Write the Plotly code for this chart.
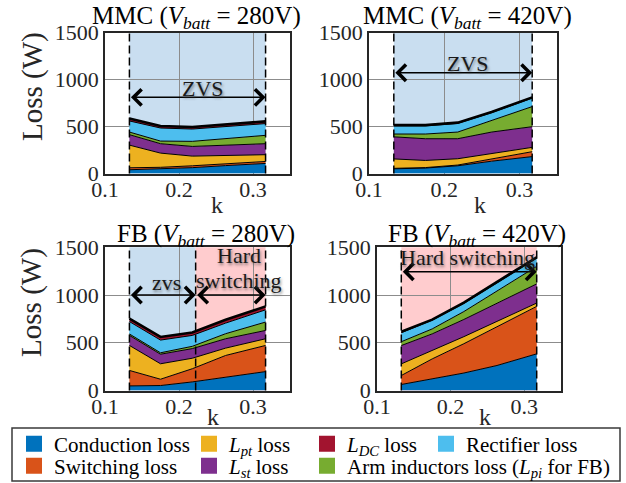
import plotly.graph_objects as go

# ---------------------------------------------------------------- data
k = [0.133, 0.175, 0.218, 0.263, 0.317]
k_fb_zvs_limit = 0.2225          # FB, 280 V: ZVS lost above this k

series_names = [
    "Conduction loss",
    "Switching loss",
    "<i>L</i><sub><i>pt</i></sub> loss",
    "<i>L</i><sub><i>st</i></sub> loss",
    "Arm inductors loss (<i>L</i><sub><i>pi</i></sub> for FB)",
    "Rectifier loss",
    "<i>L</i><sub><i>DC</i></sub> loss",
]
series_colors = ["#0072BD", "#D95319", "#EDB120", "#7E2F8E",
                 "#77AC30", "#4DBEEE", "#A2142F"]

# MMC, Vbatt = 280 V  (W)
mmc280_cond = [40, 48, 62, 84, 107]
mmc280_sw = [21, 18, 20, 21, 21]
mmc280_lpt = [241, 151, 103, 87, 72]
mmc280_lst = [111, 100, 103, 110, 117]
mmc280_arm = [28, 28, 54, 72, 89]
mmc280_rect = [118, 139, 131, 126, 125]
mmc280_ldc = [25, 21, 21, 24, 24]

# MMC, Vbatt = 420 V  (W)
mmc420_cond = [50, 58, 82, 131, 180]
mmc420_sw = [5, 5, 8, 20, 52]
mmc420_lpt = [100, 76, 67, 59, 46]
mmc420_lst = [235, 231, 213, 231, 220]
mmc420_arm = [30, 50, 71, 125, 214]
mmc420_rect = [87, 87, 92, 81, 90]
mmc420_ldc = [8, 8, 8, 8, 8]

# FB, Vbatt = 280 V  (W)
fb280_cond = [48, 52, 90, 140, 198]
fb280_sw = [162, 66, 138, 227, 274]
fb280_lpt = [262, 162, 110, 77, 70]
fb280_lst = [105, 100, 101, 98, 87]
fb280_arm = [15, 15, 24, 53, 88]
fb280_rect = [130, 133, 114, 111, 128]
fb280_ldc = [30, 33, 31, 35, 36]

# FB, Vbatt = 420 V  (W)
fb420_cond = [63, 122, 183, 262, 384]
fb420_sw = [94, 209, 307, 405, 497]
fb420_lpt = [122, 88, 74, 57, 35]
fb420_lst = [192, 174, 180, 190, 201]
fb420_arm = [40, 52, 83, 130, 183]
fb420_rect = [95, 92, 85, 80, 86]
fb420_ldc = [10, 5, 8, 9, 10]

x_ticks = [0.1, 0.2, 0.3]
y_ticks = [0, 500, 1000, 1500]

# ---------------------------------------------------------------- layout helpers
W, H = 626, 483
FONT = "Liberation Serif, Times New Roman, serif"
ZVS_BLUE = "#C9DEF0"
HARD_PINK = "#FFCCCE"


def px(x):
    return x / W


def py(y):
    return 1 - y / H


panels = [
    dict(title="MMC (<i>V</i><sub><i>batt</i></sub> = 280V)",
         data=[mmc280_cond, mmc280_sw, mmc280_lpt, mmc280_lst,
               mmc280_arm, mmc280_rect, mmc280_ldc],
         xdom=(105, 290), ydom=(32.5, 173.5), title_xy=(196, 17),
         k_xy=(217, 205), left=True,
         zones=[(k[0], k[-1], ZVS_BLUE)],
         arrows=[(k[0], k[-1], 810)],
         labels=[("ZVS", 0.232, 905)]),
    dict(title="MMC (<i>V</i><sub><i>batt</i></sub> = 420V)",
         data=[mmc420_cond, mmc420_sw, mmc420_lpt, mmc420_lst,
               mmc420_arm, mmc420_rect, mmc420_ldc],
         xdom=(369, 557), ydom=(32.5, 173.5), title_xy=(467, 17),
         k_xy=(480, 205), left=False,
         zones=[(k[0], k[-1], ZVS_BLUE)],
         arrows=[(k[0], k[-1], 1072)],
         labels=[("ZVS", 0.232, 1168)]),
    dict(title="FB (<i>V</i><sub><i>batt</i></sub> = 280V)",
         data=[fb280_cond, fb280_sw, fb280_lpt, fb280_lst,
               fb280_arm, fb280_rect, fb280_ldc],
         xdom=(105, 290), ydom=(247.3, 390.5), title_xy=(206, 235),
         k_xy=(213, 417), left=True,
         zones=[(k[0], k_fb_zvs_limit, ZVS_BLUE),
                (k_fb_zvs_limit, k[-1], HARD_PINK)],
         arrows=[(k[0], k_fb_zvs_limit, 1000),
                 (k_fb_zvs_limit, k[-1], 1000)],
         labels=[("zvs", 0.1836, 1130), ("Hard", 0.281, 1415),
                 ("switching", 0.281, 1150)]),
    dict(title="FB (<i>V</i><sub><i>batt</i></sub> = 420V)",
         data=[fb420_cond, fb420_sw, fb420_lpt, fb420_lst,
               fb420_arm, fb420_rect, fb420_ldc],
         xdom=(377, 561), ydom=(247.3, 390.5), title_xy=(477, 235),
         k_xy=(485, 417), left=False,
         zones=[(k[0], k[-1], HARD_PINK)],
         arrows=[(k[0], k[-1], 1244)],
         labels=[("Hard switching", 0.2228, 1395)]),
]

fig = go.Figure()
shapes, annotations = [], []
layout = {}

for i, p in enumerate(panels):
    sx = "" if i == 0 else str(i + 1)
    xa, ya = "x" + sx, "y" + sx
    n = len(series_names)
    for j, vals in enumerate(p["data"]):
        fig.add_trace(go.Scatter(
            x=k, y=vals, xaxis=xa, yaxis=ya, mode="lines",
            stackgroup="stack" + sx, fillcolor=series_colors[j],
            line=dict(color="black", width=2.6 if j == n - 1 else 1),
            showlegend=False, hoverinfo="skip"))

    layout["xaxis" + sx] = dict(
        domain=[px(p["xdom"][0]), px(p["xdom"][1])], anchor=ya,
        range=[0.1, 0.35], tickvals=x_ticks,
        ticktext=[f"{v:.1f}" for v in x_ticks],
        showgrid=True, gridcolor="#8c8c8c", gridwidth=1,
        showline=True, linecolor="#262626", linewidth=1.5, mirror=True,
        ticks="", zeroline=False, fixedrange=True, ticklabelstandoff=-5,
        tickfont=dict(family=FONT, size=22, color="#262626"))
    layout["yaxis" + sx] = dict(
        domain=[py(p["ydom"][1]), py(p["ydom"][0])], anchor=xa,
        range=[0, 1500], tickvals=y_ticks,
        showgrid=True, gridcolor="#8c8c8c", gridwidth=1,
        showline=True, linecolor="#262626", linewidth=1.5, mirror=True,
        ticks="", zeroline=False, fixedrange=True,
        tickfont=dict(family=FONT, size=22, color="#262626"))

    # operating-mode regions and their boundaries
    bounds = set()
    for (x0, x1, col) in p["zones"]:
        shapes.append(dict(type="rect", xref=xa, yref=ya + " domain",
                           x0=x0, x1=x1, y0=0, y1=1, fillcolor=col,
                           line=dict(width=0), layer="below"))
        bounds.update([x0, x1])
    for xb in sorted(bounds):
        shapes.append(dict(type="line", xref=xa, yref=ya + " domain",
                           x0=xb, x1=xb, y0=0, y1=1, layer="above",
                           line=dict(color="black", width=1.5,
                                     dash="8px,4px")))

    for (x0, x1, yv) in p["arrows"]:
        annotations.append(dict(
            xref=xa, yref=ya, axref=xa, ayref=ya, x=x1, y=yv, ax=x0, ay=yv,
            text="", showarrow=True, arrowside="end+start",
            arrowhead=4, startarrowhead=4, arrowsize=2.1,
            startarrowsize=2.1, arrowwidth=1.5, arrowcolor="black",
            standoff=0, startstandoff=0))
    for (txt, xv, yv) in p["labels"]:
        annotations.append(dict(
            xref=xa, yref=ya, x=xv, y=yv, text=txt, showarrow=False,
            font=dict(family=FONT, size=22, color="#1a1a1a",
                      shadow="1px 2px 3px rgba(60,60,60,0.6)")))

    annotations.append(dict(
        xref="paper", yref="paper", x=px(p["title_xy"][0]),
        y=py(p["title_xy"][1]), text=p["title"], showarrow=False,
        xanchor="center", yanchor="middle",
        font=dict(family=FONT, size=25, color="black")))
    annotations.append(dict(
        xref="paper", yref="paper", x=px(p["k_xy"][0]), y=py(p["k_xy"][1]),
        text="k", showarrow=False, xanchor="center", yanchor="middle",
        font=dict(family=FONT, size=24, color="#262626")))
    if p["left"]:
        mid = (p["ydom"][0] + p["ydom"][1]) / 2 - 16
        annotations.append(dict(
            xref="paper", yref="paper", x=px(32), y=py(mid),
            text="Loss (W)", showarrow=False, textangle=-90,
            xanchor="center", yanchor="middle",
            font=dict(family=FONT, size=29, color="#262626")))

# ---------------------------------------------------------------- legend
# one small legend per entry so the entries sit on a 4-column grid
legend_slots = [(0, 0), (1, 0), (0, 1), (1, 1), (1, 2), (0, 3), (0, 2)]
col_x = [14, 189, 307, 426]
row_y = [444, 466]
for j, (name, col) in enumerate(zip(series_names, series_colors)):
    lname = "legend" if j == 0 else f"legend{j + 1}"
    r, c = legend_slots[j]
    fig.add_trace(go.Scatter(
        x=[None], y=[None], mode="markers", name=name, legend=lname,
        marker=dict(symbol="square", size=16, color=col,
                    line=dict(width=0)),
        hoverinfo="skip"))
    layout[lname] = dict(
        x=px(col_x[c]), y=py(row_y[r]), xanchor="left", yanchor="middle",
        orientation="v", bgcolor="rgba(0,0,0,0)", borderwidth=0,
        font=dict(family=FONT, size=21, color="black"),
        itemclick=False, itemdoubleclick=False)

shapes.append(dict(type="rect", xref="paper", yref="paper",
                   x0=px(12), x1=px(620), y0=py(481), y1=py(428),
                   line=dict(color="#3a3a3a", width=1.5),
                   fillcolor="rgba(0,0,0,0)"))

fig.update_layout(
    width=W, height=H,
    margin=dict(l=0, r=0, t=0, b=0, pad=0, autoexpand=False),
    paper_bgcolor="white", plot_bgcolor="white",
    shapes=shapes, annotations=annotations, **layout)

fig.write_html("out.html")
